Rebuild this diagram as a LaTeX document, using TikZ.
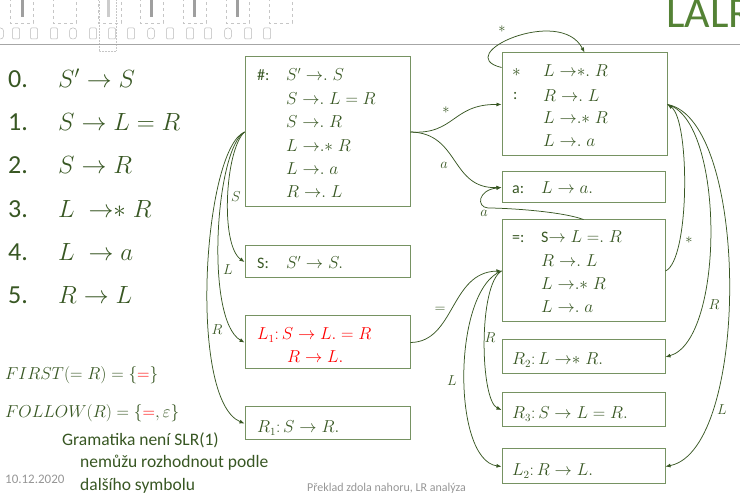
\documentclass[tikz,border=0pt]{standalone}
\usepackage{fontspec}
\setmainfont{Carlito}
\usetikzlibrary{arrows.meta,fit}
\definecolor{dg}{RGB}{56,87,35}
\definecolor{bg}{RGB}{118,146,98}
\definecolor{lg}{RGB}{84,130,53}
\definecolor{gr}{RGB}{150,150,150}
\newcommand\rdot{\mathrel{{\to}{.}}}
\newcommand\rdots{\mathrel{{\to}{.}{*}}}
\begin{document}
\begin{tikzpicture}[x=1pt,y=-1pt,
  boxst/.style={draw=bg, line width=1pt, inner sep=0pt},
  conn/.style={draw=dg, line width=0.75pt, -{Latex[length=5pt,width=4pt]}},
  lbl/.style={text=dg, font=\fontsize{15}{15}\selectfont, inner sep=0pt},
  bt/.style={text=dg, anchor=base west, inner sep=0pt, font=\fontsize{16}{16}\selectfont},
  lst/.style={text=dg, anchor=base west, inner sep=0pt, font=\fontsize{26}{26}\selectfont},
  mid/.style={text=dg, anchor=base west, inner sep=0pt, font=\fontsize{18}{18}\selectfont},
  foot/.style={text=gr, anchor=base west, inner sep=0pt, font=\fontsize{12}{12}\selectfont}]
\useasboundingbox (0,0) rectangle (740,502);
\clip (0,0) rectangle (740,502);
% header
\foreach \x in {10,53,98,140,183,226,269} \draw[gray!45, dashed, line width=0.5pt] (\x,-2) rectangle (\x+23,23);
\foreach \x in {22,151,194,237} \fill[gray!75] (\x-1.5,0) rectangle (\x+1.5,17);
\fill[gray!40] (107,0) rectangle (110,17);
\draw[gray!45, densely dotted, line width=0.5pt] (99,-2) rectangle (116,51);
\foreach \x in {16,34,54,93,112,131,170,190,208,248,267} \draw[gray!55, line width=0.5pt, rounded corners=1pt] (\x-3.5,28) rectangle (\x+3.5,39);
\foreach \x in {0,73,151,228} \draw[gray!55, line width=0.5pt, rounded corners=3pt] (\x-3.5,28) rectangle (\x+3.5,39);
\draw[gray!70, line width=0.8pt] (0,44) -- (740,44);
\node[anchor=base west, text=lg, inner sep=0pt, font=\fontsize{44}{44}\selectfont] (ttl) at (666,28) {LALR};
% grammar
\node[lst] (n0) at (8,88) {0.};  \node[lst] (m0) at (58,88) {$S'\to S$};
\node[lst] (n1) at (8,131) {1.}; \node[lst] (m1) at (58,131) {$S\to L=R$};
\node[lst] (n2) at (8,174) {2.}; \node[lst] (m2) at (58,174) {$S\to R$};
\node[lst] (n3) at (8,218) {3.}; \node[lst] (m3) at (58,218) {$L\;\mathrel{{\to}{*}}R$};
\node[lst] (n4) at (8,261) {4.}; \node[lst] (m4) at (58,261) {$L\;\to a$};
\node[lst] (n5) at (8,304) {5.}; \node[lst] (m5) at (58,304) {$R\to L$};
\node[mid] (fi) at (5,380) {$FIRST(=R)=\{{\color{red}=}\}$};
\node[mid] (fo) at (5,418) {$FOLLOW(R)=\{{\color{red}=},\varepsilon\}$};
\node[mid, font=\fontsize{17.5}{17.5}\selectfont] (g1) at (62,446) {Gramatika není SLR(1)};
\node[mid, font=\fontsize{17.5}{17.5}\selectfont] (g2) at (80,468) {nemůžu rozhodnout podle};
\node[mid, font=\fontsize{17.5}{17.5}\selectfont] (g3) at (80,491) {dalšího symbolu};
\node[foot, font=\fontsize{13}{13}\selectfont] (dt) at (5,484) {10.12.2020};
\node[foot] (ft) at (307,492) {Překlad zdola nahoru, LR analýza};
% boxes
\node[boxst, fit={(245,57) (410,207)}] (hash) {};
\node[boxst, fit={(245,246) (410,278)}] (sb) {};
\node[boxst, fit={(245,316) (410,369)}] (lone) {};
\node[boxst, fit={(245,407) (410,440)}] (rone) {};
\node[boxst, fit={(502,53) (667,156)}] (star) {};
\node[boxst, fit={(502,172) (665,203)}] (ab) {};
\node[boxst, fit={(502,220) (665,322)}] (eqb) {};
\node[boxst, fit={(502,340) (665,374)}] (rtwo) {};
\node[boxst, fit={(502,393) (665,427)}] (rthree) {};
\node[boxst, fit={(502,449) (665,484)}] (ltwo) {};
% box texts
\node[bt] (h0) at (257,81) {\#:};
\node[bt] (h1) at (286,81) {$S'\rdot S$};
\node[bt] (h2) at (286,105) {$S\rdot L=R$};
\node[bt] (h3) at (286,128) {$S\rdot R$};
\node[bt] (h4) at (286,152) {$L\rdots R$};
\node[bt] (h5) at (286,175) {$L\rdot a$};
\node[bt] (h6) at (286,198) {$R\rdot L$};
\node[bt] (s0) at (257,269) {S:};
\node[bt] (s1) at (286,269) {$S'\to S.$};
\node[bt, text=red] (l1) at (257,340) {$L_1\colon S\to L.=R$};
\node[bt, text=red] (l2) at (287,363) {$R\to L.$};
\node[bt] (r1) at (257,433) {$R_1\colon S\to R.$};
\node[bt] (st0) at (512,77) {$*$};
\node[bt] (st1) at (513,100) {:};
\node[bt] (st2) at (543,77) {$L\mathrel{{\to}{*}{.}}R$};
\node[bt] (st3) at (543,102) {$R\rdot L$};
\node[bt] (st4) at (543,124) {$L\rdots R$};
\node[bt] (st5) at (543,147) {$L\rdot a$};
\node[bt] (a0) at (512,194) {a:};
\node[bt] (a1) at (541,194) {$L\to a.$};
\node[bt] (e0) at (512,243) {=:};
\node[bt] (e1) at (541,243) {S$\to L\mathrel{{=}{.}}R$};
\node[bt] (e2) at (541,267) {$R\rdot L$};
\node[bt] (e3) at (541,290) {$L\rdots R$};
\node[bt] (e4) at (541,313) {$L\rdot a$};
\node[bt] (rt2) at (512,365) {$R_2\colon L\mathrel{{\to}{*}}R.$};
\node[bt] (rt3) at (512,419) {$R_3\colon S\to L=R.$};
\node[bt] (lt2) at (512,476) {$L_2\colon R\to L.$};
% connectors
\draw[conn] (hash.west) .. controls (225,150) and (220,245) .. (sb.west);
\draw[conn] (hash.west) .. controls (215,150) and (205,320) .. (lone.west);
\draw[conn] (hash.west) .. controls (203,150) and (188,400) .. (rone.west);
\node[lbl] (lS) at (236,197) {$S$};
\node[lbl] (lL) at (228,270) {$L$};
\node[lbl] (lR) at (217,330) {$R$};
\draw[conn] (hash.east) .. controls (455,135) and (452,104) .. (star.west);
\draw[conn] (hash.east) .. controls (460,133) and (450,189) .. (ab.west);
\node[lbl] (lst1) at (446,110) {$*$};
\node[lbl] (la1) at (444,165) {$a$};
\draw[conn] ([yshift=-15pt]star.north west) .. controls (450,55) and (560,5) .. (star.north);
\node[lbl] (lst2) at (502,29) {$*$};
\draw[conn] (eqb.north) .. controls (560,211) and (505,208) .. (488,208) .. controls (476,207) and (478,190) .. (ab.west);
\node[lbl] (la2) at (484,213) {$a$};
\draw[conn] (eqb.east) .. controls (690,260) and (690,120) .. (star.east);
\node[lbl] (lst3) at (689,240) {$*$};
\draw[conn] (star.east) .. controls (725,120) and (725,340) .. (rtwo.east);
\node[lbl] (lR2) at (714,305) {$R$};
\draw[conn] (star.east) .. controls (750,120) and (750,450) .. (ltwo.east);
\node[lbl] (lL2) at (722,410) {$L$};
\draw[conn] (lone.east) .. controls (455,342) and (450,272) .. (eqb.west);
\node[lbl] (leq) at (440,310) {$=$};
\draw[conn] (eqb.west) .. controls (478,285) and (480,400) .. (rthree.west);
\node[lbl] (lR3) at (490,338) {$R$};
\draw[conn] (eqb.west) .. controls (452,290) and (452,460) .. (ltwo.west);
\node[lbl] (lL3) at (452,381) {$L$};
\end{tikzpicture}
\end{document}
